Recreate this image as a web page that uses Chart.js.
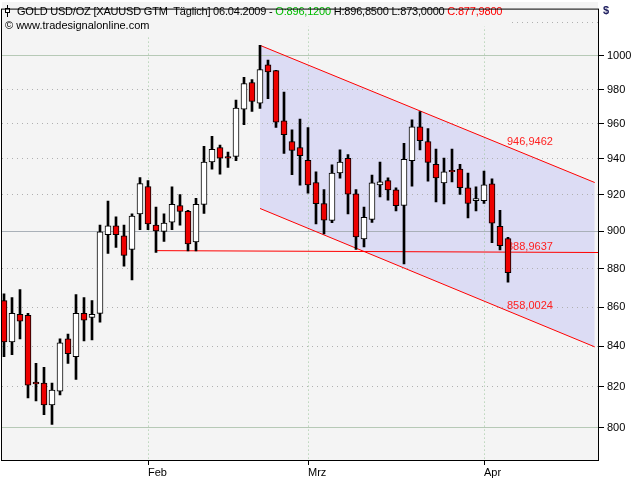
<!DOCTYPE html>
<html>
<head>
<meta charset="utf-8">
<script src="https://cdn.jsdelivr.net/npm/chart.js@4/dist/chart.umd.min.js"></script>
<style>
  body { margin: 0; background: #fff; }
  #wrap { position: relative; width: 640px; height: 480px; }
  #plotbg { position: absolute; left: 2px; top: 2px; width: 596px; height: 458px; background: #f4f4f4; }
  #chart { position: absolute; left: 0; top: 0; }
</style>
</head>
<body>
<div id="wrap"><div id="plotbg"></div><canvas id="chart" width="640" height="480"></canvas></div>
<script>
// trading days (dd.mm, 2009)
const days = [
  '07.01','08.01','09.01','12.01','13.01','14.01','15.01','16.01','19.01','20.01','21.01','22.01','23.01','26.01','27.01','28.01','29.01','30.01',
  '02.02','03.02','04.02','05.02','06.02','09.02','10.02','11.02','12.02','13.02','16.02','17.02','18.02','19.02','20.02','23.02','24.02','25.02','26.02','27.02',
  '02.03','03.03','04.03','05.03','06.03','09.03','10.03','11.03','12.03','13.03','16.03','17.03','18.03','19.03','20.03','23.03','24.03','25.03','26.03','27.03','30.03','31.03',
  '01.04','02.04','03.04','06.04'
];
const open = [
  863.4, 842.3, 856.3, 855.8, 822.2, 821.7, 811.1, 817.8, 843.8, 834.9, 856.8, 854.8, 856.8, 898.2, 903.0, 897.7, 890.3, 909.5,
  924.6, 903.5, 900.0, 905.0, 914.1, 910.9, 894.4, 914.7, 938.3, 946.5, 941.4, 941.5, 968.5, 984.1, 972.0, 994.6, 991.1, 961.8, 949.9, 946.5,
  939.2, 926.8, 915.2, 906.0, 932.1, 940.3, 920.6, 896.0, 906.5, 925.5, 927.9, 922.8, 914.2, 939.1, 958.3, 949.9, 937.0, 926.6, 933.6, 934.3, 923.9, 916.8,
  916.8, 926.1, 902.7, 896.12
];
const high = [
  867.0, 865.0, 869.1, 856.8, 831.5, 829.5, 821.7, 843.8, 846.3, 866.5, 865.0, 863.4, 903.5, 916.5, 907.9, 903.5, 909.5, 929.5,
  927.9, 913.2, 909.5, 924.4, 920.1, 911.5, 918.1, 947.2, 952.8, 947.8, 943.9, 973.8, 987.2, 985.8, 1006.3, 997.5, 991.3, 978.4, 956.6, 962.8,
  957.9, 932.8, 922.9, 936.7, 945.2, 942.5, 922.9, 913.2, 931.0, 938.3, 929.4, 923.8, 948.9, 962.3, 967.1, 957.3, 945.6, 940.5, 945.6, 937.0, 932.1, 924.4,
  933.2, 928.8, 911.5, 896.85
];
const low = [
  834.9, 835.9, 843.8, 814.5, 813.0, 806.3, 801.6, 815.9, 831.5, 823.6, 842.8, 843.3, 852.3, 888.2, 891.4, 881.4, 874.2, 900.9,
  900.9, 888.8, 894.7, 901.0, 903.4, 889.6, 889.6, 909.8, 934.2, 931.5, 935.2, 939.0, 959.6, 967.2, 968.9, 974.6, 958.0, 943.1, 931.2, 925.3,
  920.9, 904.1, 898.7, 904.8, 929.2, 909.5, 890.3, 891.7, 904.9, 918.8, 917.0, 911.2, 882.7, 924.8, 945.1, 927.5, 916.1, 915.0, 927.2, 920.2, 907.4, 911.1,
  915.2, 893.9, 890.1, 873.00
];
const close = [
  842.3, 856.8, 852.8, 820.7, 821.3, 811.1, 818.3, 841.8, 836.4, 856.8, 853.3, 856.3, 899.8, 903.0, 898.2, 887.2, 908.4, 926.2,
  904.1, 900.3, 904.5, 914.7, 910.9, 893.3, 914.7, 938.3, 945.4, 940.4, 940.5, 969.1, 983.5, 973.0, 991.7, 990.4, 960.9, 953.8, 944.8, 941.8,
  925.5, 915.1, 906.1, 932.1, 938.3, 920.4, 897.0, 907.7, 926.6, 927.2, 922.7, 914.0, 939.8, 958.3, 950.4, 938.1, 929.4, 932.7, 932.8, 923.9, 915.2, 917.9,
  925.5, 904.5, 892.3, 877.98
];

const monthStarts = ['02.02', '02.03', '01.04'];
const monthLabels = ['Feb', 'Mrz', 'Apr'];
const priceTicks = [800, 820, 840, 860, 880, 900, 920, 940, 960, 980, 1000, 1020];
const solidLevels = {800: '#b6c9b6', 900: '#a9b0b8', 1000: '#b6c9b6'};

// trend channel (bar index, price) and support line
const channelX = [32, 73.84];
const channelUpper = [1006.3, 926.8];
const channelLower = [912.5, 839.8];
const supportX = [19, 74.25];
const supportY = [889.7, 888.7];
const levelLabels = ['946,9462', '888,9637', '858,0024'];
const levelValues = [946.9462, 888.9637, 858.0024];

const FONT = '"Liberation Sans", Arial, sans-serif';
const fmt = v => v.toFixed(4).replace('.', ',');

const chromePlugin = {
  id: 'chrome',
  beforeDatasetsDraw(chart) {
    const {ctx, scales: {x, y}} = chart;
    ctx.save();
    ctx.font = '11px ' + FONT;
    ctx.fillStyle = '#ff2020';
    ctx.textAlign = 'left';
    ctx.textBaseline = 'alphabetic';
    const lx = x.getPixelForValue(days.length - 1) - 1;
    levelValues.forEach((v, i) => ctx.fillText(levelLabels[i], lx, y.getPixelForValue(v) - 2));
    ctx.restore();
  },
  afterDraw(chart) {
    const ctx = chart.ctx;
    const a = chart.chartArea;
    const n = days.length - 1;
    ctx.save();
    ctx.font = '11px ' + FONT;
    ctx.textBaseline = 'alphabetic';
    // header line 1
    ctx.letterSpacing = '-0.2px';
    const parts = [
      ['GOLD USD/OZ [XAUUSD GTM  Täglich] 06.04.2009 - ', '#000000'],
      ['O:' + fmt(open[n]) + ' ', '#00bb00'],
      ['H:' + fmt(high[n]) + ' L:' + fmt(low[n]) + ' ', '#000000'],
      ['C:' + fmt(close[n]), '#ff0000']
    ];
    let w = 0;
    parts.forEach(p => { w += ctx.measureText(p[0]).width; });
    ctx.fillStyle = '#f4f4f4';
    ctx.fillRect(a.left, a.top, 17 + w + 6 - a.left, 17);
    let tx = 17;
    parts.forEach(p => {
      ctx.fillStyle = p[1];
      ctx.fillText(p[0], tx, 15);
      tx += ctx.measureText(p[0]).width;
    });
    ctx.letterSpacing = '0px';
    // little candle icon
    ctx.strokeStyle = '#000';
    ctx.lineWidth = 1;
    ctx.beginPath();
    ctx.moveTo(7.5, 5); ctx.lineTo(7.5, 17);
    ctx.stroke();
    ctx.fillStyle = '#ffffff';
    ctx.fillRect(5, 8, 5, 5);
    ctx.strokeRect(5.5, 8.5, 4, 4);
    // header line 2
    const copy = '\u00a9 www.tradesignalonline.com';
    const cw = ctx.measureText(copy).width;
    ctx.fillStyle = '#f4f4f4';
    ctx.fillRect(a.left, 19, 5 + cw + 2 - a.left, 16);
    ctx.fillStyle = '#000000';
    ctx.fillText(copy, 5, 29);
    // frame
    ctx.strokeStyle = '#000';
    ctx.strokeRect(a.left - 0.5, a.top - 0.5, a.right - a.left + 1, a.bottom - a.top + 1);
    // currency
    ctx.font = 'bold 11px ' + FONT;
    ctx.fillStyle = '#202060';
    ctx.fillText('$', 603, 14);
    ctx.restore();
  }
};

new Chart(document.getElementById('chart'), {
  type: 'bar',
  data: {
    datasets: [
      {
        type: 'bar',
        data: days.map((d, i) => ({x: i, y: [open[i], close[i]]})),
        backgroundColor: close.map((c, i) => c >= open[i] ? '#ffffff' : '#ee0000'),
        borderColor: '#000000',
        borderWidth: 1,
        borderSkipped: false,
        barThickness: 6,
        grouped: false,
        order: 0
      },
      {
        type: 'bar',
        data: days.map((d, i) => ({x: i, y: [low[i], high[i]]})),
        backgroundColor: '#000000',
        borderWidth: 0,
        barThickness: 2,
        grouped: false,
        order: 1
      },
      {
        type: 'line',
        data: channelX.map((x, i) => ({x: x, y: channelUpper[i]})),
        borderColor: '#ff0000',
        borderWidth: 1,
        pointRadius: 0,
        fill: '+1',
        backgroundColor: '#dcdcf4',
        order: 2
      },
      {
        type: 'line',
        data: channelX.map((x, i) => ({x: x, y: channelLower[i]})),
        borderColor: '#ff0000',
        borderWidth: 1,
        pointRadius: 0,
        fill: false,
        order: 2
      },
      {
        type: 'line',
        data: supportX.map((x, i) => ({x: x, y: supportY[i]})),
        borderColor: '#ff0000',
        borderWidth: 1,
        pointRadius: 0,
        fill: false,
        order: 2
      }
    ]
  },
  options: {
    responsive: false,
    devicePixelRatio: 1,
    animation: false,
    layout: {padding: {left: 2, top: 2, right: 0, bottom: 0}},
    plugins: {
      legend: {display: false},
      tooltip: {enabled: false},
      filler: {drawTime: 'beforeDraw'}
    },
    scales: {
      x: {
        type: 'linear',
        offset: false,
        min: -0.25,
        max: 74.25,
        afterBuildTicks: s => { s.ticks = monthStarts.map(d => ({value: days.indexOf(d)})); },
        afterFit: s => { s.height = 20; },
        grid: {offset: false, color: '#9cc59c', tickColor: '#000000', tickLength: 5},
        border: {display: false, dash: [1, 3]},
        ticks: {
          align: 'start',
          padding: 1,
          maxRotation: 0,
          autoSkip: false,
          color: '#000000',
          font: {family: FONT, size: 11},
          callback: v => monthLabels[monthStarts.indexOf(days[v])]
        }
      },
      y: {
        type: 'logarithmic',
        position: 'right',
        min: 784.7,
        max: 1028.1,
        afterBuildTicks: s => { s.ticks = priceTicks.map(v => ({value: v})); },
        afterFit: s => { s.width = 42; },
        grid: {
          color: c => (c.tick && solidLevels[c.tick.value]) || '#b0b0b0',
          tickColor: c => (c.tick && c.tick.value > 1000) ? 'rgba(0,0,0,0)' : '#000000',
          tickLength: 6
        },
        border: {display: false, dash: c => (c.tick && solidLevels[c.tick.value]) ? [] : [1, 4]},
        ticks: {
          padding: 3,
          autoSkip: false,
          color: '#000000',
          font: {family: FONT, size: 11},
          callback: v => v > 1000 ? '' : String(v)
        }
      }
    }
  },
  plugins: [chromePlugin]
});
</script>
</body>
</html>
